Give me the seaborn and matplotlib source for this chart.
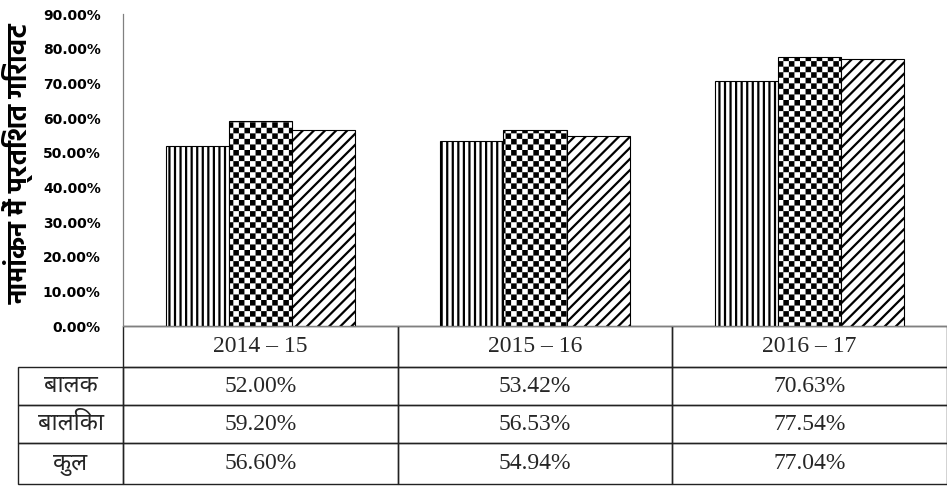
import numpy as np
import pandas as pd
import matplotlib
matplotlib.use("Agg")
import matplotlib.pyplot as plt
import matplotlib.hatch as mhatch
from matplotlib.path import Path
from matplotlib.ticker import PercentFormatter, MultipleLocator
from matplotlib.table import Table
import seaborn as sns

# ---------------- data ----------------
years = ["2014 – 15", "2015 – 16", "2016 – 17"]
groups = ["बालक", "बालिका", "कुल"]
boys = [52.00, 53.42, 70.63]
girls = [59.20, 56.53, 77.54]
total = [56.60, 54.94, 77.04]
ylabel = "नामांकन में प्रतिशत गिरावट"

# ---------------- style ----------------
sns.set_theme(style="white")
plt.rcParams["font.family"] = ["DejaVu Sans"]
plt.rcParams["hatch.linewidth"] = 1.6
plt.rcParams["hatch.color"] = "black"

HATCH_LW_PX = 1.6 * 100 / 72.0


class CheckerHatch(mhatch.HatchPatternBase):
    """Filled checkerboard squares, triggered by 'O' in the hatch string."""

    def __init__(self, hatch, density):
        k = hatch.count("O")
        self.n = 18 * k
        if self.n:
            self.num_squares = (self.n * self.n) // 2
            self.num_vertices = self.num_squares * 5
        else:
            self.num_vertices = 0

    def set_vertices_and_codes(self, vertices, codes):
        n = self.n
        m = (HATCH_LW_PX / 2.0) / 100.0
        verts = []
        cds = []
        for i in range(n):
            for j in range(n):
                if (i + j) % 2 == 0:
                    x0, x1 = i / n + m, (i + 1) / n - m
                    y0, y1 = j / n + m, (j + 1) / n - m
                    verts += [(x0, y0), (x1, y0), (x1, y1), (x0, y1), (x0, y0)]
                    cds += [Path.MOVETO, Path.LINETO, Path.LINETO, Path.LINETO,
                            Path.CLOSEPOLY]
        vertices[:] = np.array(verts)
        codes[:] = np.array(cds)


mhatch._hatch_types = [CheckerHatch if t is mhatch.LargeCircles else t
                       for t in mhatch._hatch_types]

df = pd.DataFrame({
    "year": np.repeat(years, len(groups)),
    "group": groups * len(years),
    "value": np.ravel(np.column_stack([boys, girls, total])),
})

W, H = 947, 490
fig = plt.figure(figsize=(W / 100, H / 100), dpi=100)
ax_l, ax_r, ax_t, ax_b = 123, 947, 14, 326
ax = fig.add_axes([ax_l / W, 1 - ax_b / H, (ax_r - ax_l) / W, (ax_b - ax_t) / H])

sns.barplot(data=df, x="year", y="value", hue="group", hue_order=groups,
            order=years, width=0.69, gap=0, errorbar=None, legend=False,
            ax=ax, saturation=1)

hatches = ["|||", "O", "///"]
for cont, h in zip(ax.containers, hatches):
    for bar in cont:
        bar.set_facecolor("white")
        bar.set_edgecolor("black")
        bar.set_linewidth(0.8)
        bar.set_hatch(h)

ax.set_ylim(0, 90)
ax.yaxis.set_major_locator(MultipleLocator(10))
ax.yaxis.set_major_formatter(PercentFormatter(xmax=100, decimals=2))
ax.set_xlabel("")
ax.set_xticks([])
ax.tick_params(axis="y", direction="out", length=5, width=0.8, color="#808080",
               pad=11, labelsize=10, labelcolor="black")
for lab in ax.get_yticklabels():
    lab.set_fontweight("bold")
    lab.set_fontfamily("DejaVu Sans")
for s in ["top", "right"]:
    ax.spines[s].set_visible(False)
for s in ["left", "bottom"]:
    ax.spines[s].set_color("#808080")
    ax.spines[s].set_linewidth(0.9)

ax.set_ylabel(ylabel, fontfamily=["Hind", "Noto Sans Devanagari", "DejaVu Sans"],
              fontweight="bold", fontsize=19.5, color="black")
ax.yaxis.set_label_coords((34 - ax_l) / (ax_r - ax_l), (ax_b - 164) / (ax_b - ax_t))

# ---------------- table ----------------
aw, ah = ax_r - ax_l, ax_b - ax_t
tb_l, tb_b = 18, 484
row_px = [41, 38, 38, 41]
tbl_h = sum(row_px) / ah
tbl = Table(ax, bbox=[0, -tbl_h, 1, tbl_h])
lab_w = (ax_l - tb_l) / aw
col_w = 1 / 3
row_hs = [r / ah for r in row_px]
serif = ["Liberation Serif", "DejaVu Serif"]
deva = ["Noto Sans Devanagari", "DejaVu Sans"]

for j, yr in enumerate(years):
    c = tbl.add_cell(0, j, width=col_w, height=row_hs[0], text=yr, loc="center")
    c.get_text().set_fontfamily(serif)
    c.get_text().set_fontsize(17)
for i, (lab, vals) in enumerate(zip(groups, [boys, girls, total]), start=1):
    c = tbl.add_cell(i, -1, width=lab_w, height=row_hs[i], text=lab, loc="center")
    c.get_text().set_fontfamily(deva)
    c.get_text().set_fontsize(17)
    for j, v in enumerate(vals):
        c = tbl.add_cell(i, j, width=col_w, height=row_hs[i], text=f"{v:.2f}%",
                         loc="center")
        c.get_text().set_fontfamily(serif)
        c.get_text().set_fontsize(17)
tbl.auto_set_font_size(False)
for cell in tbl.get_celld().values():
    cell.set_edgecolor("#222222")
    cell.set_linewidth(1.0)
    cell.set_facecolor("none")
ax.add_table(tbl)

fig.savefig("out.png", dpi=100, facecolor="white")
